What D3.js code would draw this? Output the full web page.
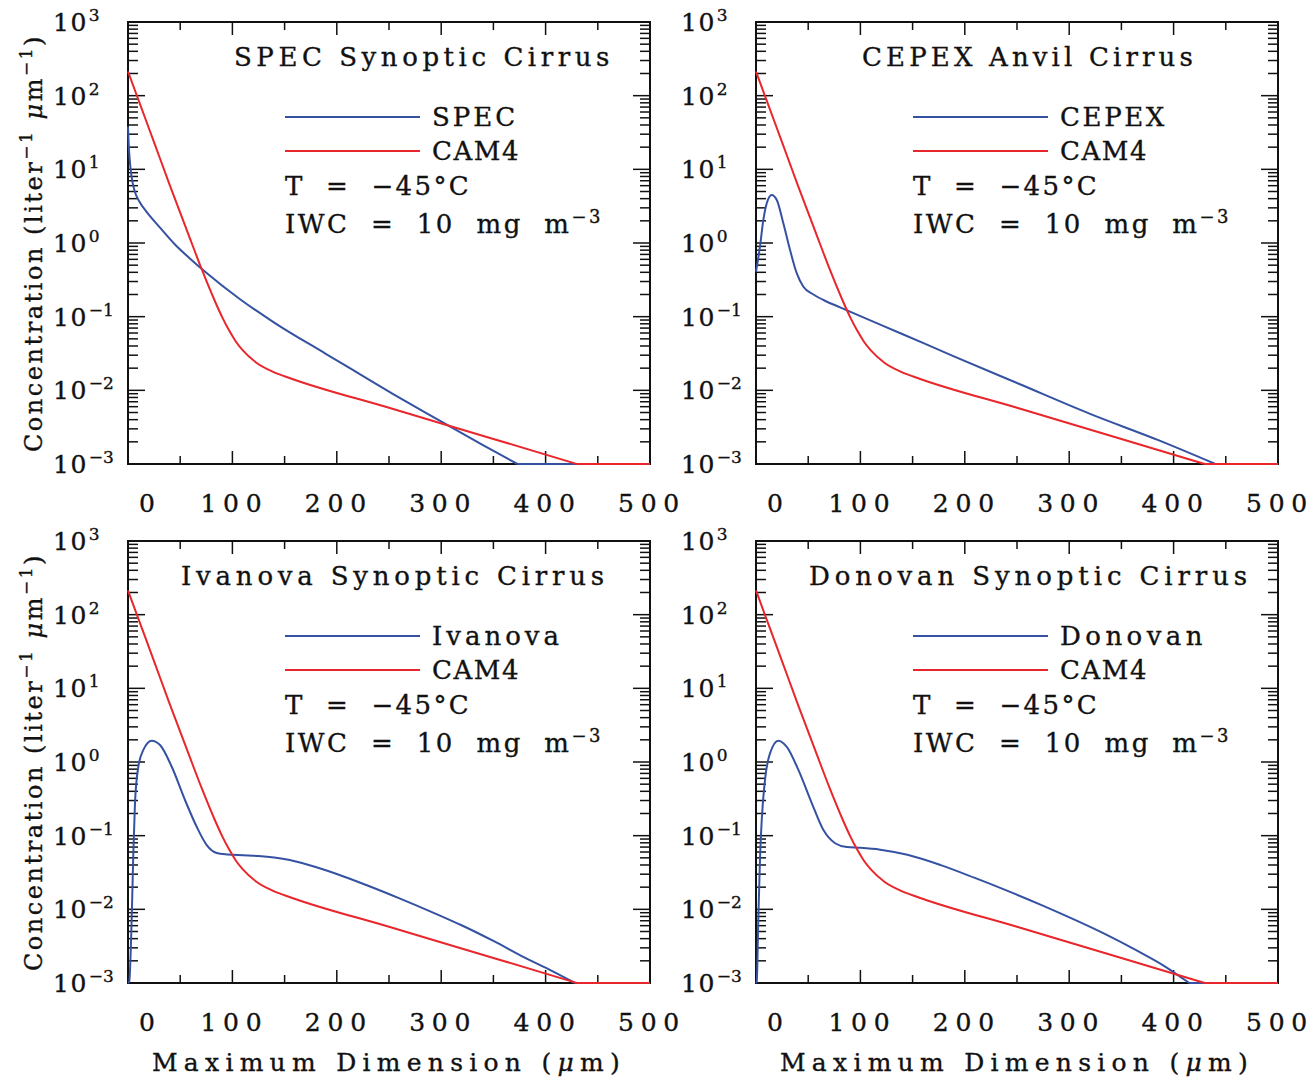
<!DOCTYPE html>
<html>
<head>
<meta charset="utf-8">
<script src="https://cdn.jsdelivr.net/npm/d3@7"></script>
<style>
body { margin: 0; background: #fff; }
text { font-family: "DejaVu Serif", serif; fill: #111; stroke: #111; stroke-width: 0.35px; white-space: pre; }
</style>
</head>
<body>
<svg id="chart" width="1316" height="1080"></svg>
<script>
// Values: diameter (um) and concentration (liter^-1 um^-1)

const diam_cam4 = [0, 10, 25, 40, 57.5, 70.6, 83.7, 90.3, 96.8, 103.4, 110, 123, 139.5, 156, 250, 350, 430, 500];
const conc_cam4 = [213, 87.7, 23.2, 6.12, 1.35, 0.441, 0.157, 0.098, 0.0652, 0.0457, 0.0348, 0.0237, 0.0177, 0.0145, 0.00579, 0.00219, 0.001, 0.000506];

const diam_spec = [0, 0.7, 1.7, 3.4, 6.5, 11, 18, 30, 45, 60, 73, 107, 140, 189, 222, 254, 287, 307, 340, 373, 400, 500];
const conc_spec = [38.0, 21.4, 13.2, 7.94, 5.01, 3.63, 2.63, 1.66, 0.955, 0.603, 0.417, 0.174, 0.0832, 0.0316, 0.0166, 0.00891, 0.00479, 0.00331, 0.0018, 0.001, 0.000617, 0.0001];

const diam_cepex = [0, 3.8, 7, 10.3, 15, 19.9, 26.2, 32.6, 39, 45.4, 55, 67, 80, 90, 140, 189, 254, 320, 386, 440, 500];
const conc_cepex = [0.407, 0.891, 2.04, 3.47, 4.49, 3.84, 1.85, 0.804, 0.389, 0.255, 0.200, 0.162, 0.135, 0.117, 0.0582, 0.0292, 0.0119, 0.00479, 0.00209, 0.001, 0.000437];

const diam_ivanova = [0, 1.2, 3.5, 5.1, 6.7, 9.9, 14.7, 22.7, 30.7, 41.9, 54.6, 65.8, 75.4, 85, 95, 110, 125, 140, 155, 170, 185, 200, 230, 260, 290, 320, 350, 380, 405, 428, 460, 500];
const conc_ivanova = [0.000316, 0.00105, 0.00716, 0.0582, 0.278, 0.863, 1.46, 1.95, 1.70, 0.863, 0.305, 0.132, 0.0746, 0.0582, 0.0556, 0.0543, 0.0531, 0.0507, 0.0468, 0.0412, 0.0355, 0.0302, 0.0209, 0.0141, 0.00933, 0.00603, 0.00372, 0.00221, 0.00148, 0.001, 0.000562, 0.000251];

const diam_donovan = [0, 0.7, 2.2, 3.8, 5.5, 8.6, 13.4, 21.4, 29.5, 40.6, 53.5, 64.6, 75.8, 87, 100, 119, 145, 177, 209, 241, 273, 305, 335, 365, 390, 415, 450, 500];
const conc_donovan = [0.000316, 0.00105, 0.00716, 0.0468, 0.163, 0.570, 1.31, 1.95, 1.61, 0.780, 0.275, 0.119, 0.0789, 0.0700, 0.0684, 0.0646, 0.0550, 0.0398, 0.0269, 0.0178, 0.0115, 0.00724, 0.00457, 0.00275, 0.00174, 0.001, 0.000398, 0.0001];

const titles = ["SPEC Synoptic Cirrus", "CEPEX Anvil Cirrus", "Ivanova Synoptic Cirrus", "Donovan Synoptic Cirrus"];
const obs_names = ["SPEC", "CEPEX", "Ivanova", "Donovan"];
const x_ticks = [0, 100, 200, 300, 400, 500];
const y_exponents = [-3, -2, -1, 0, 1, 2, 3];

// Layout

const svg = d3.select('#chart');
const W = 522, H = 442;
const blue = '#3552a2';
const red = '#e8262b';
const floor = 1e-3;

const panels = [
    { left: 128, top: 22, diam: diam_spec, conc: conc_spec, titleDx: 106, titleW: 380, nameW: 86 },
    { left: 756, top: 22, diam: diam_cepex, conc: conc_cepex, titleDx: 106, titleW: 335, nameW: 107 },
    { left: 128, top: 541, diam: diam_ivanova, conc: conc_ivanova, titleDx: 53, titleW: 428, nameW: 131 },
    { left: 756, top: 541, diam: diam_donovan, conc: conc_donovan, titleDx: 53, titleW: 443, nameW: 147 }
];

// stretch text to the wide spacing of the original plot font
function fitText(sel, target) {
    const node = sel.node();
    const n = node.textContent.length;
    const w = node.getComputedTextLength();
    sel.attr('letter-spacing', ((target - w) / n).toFixed(2));
}

function tick(g, x1, y1, x2, y2) {
    g.append('line').attr('x1', x1).attr('y1', y1).attr('x2', x2).attr('y2', y2)
        .attr('stroke', '#111').attr('stroke-width', 1.5);
}

panels.forEach((p, i) => {
    const g = svg.append('g');

    const x = d3.scaleLinear().domain([0, 500]).range([p.left, p.left + W]);
    const y = d3.scaleLog().domain([1e-3, 1e3]).range([p.top + H, p.top]).clamp(true);

    // y ticks, both sides
    y_exponents.forEach(e => {
        const yy = y(Math.pow(10, e));
        tick(g, p.left, yy, p.left + 17, yy);
        tick(g, p.left + W, yy, p.left + W - 17, yy);
        if (e < 3) {
            d3.range(2, 10).forEach(k => {
                const ym = y(k * Math.pow(10, e));
                tick(g, p.left, ym, p.left + 10, ym);
                tick(g, p.left + W, ym, p.left + W - 10, ym);
            });
        }
    });

    // x ticks, top and bottom
    d3.range(50, 500, 50).forEach(v => {
        const len = v % 100 === 0 ? 13 : 8;
        tick(g, x(v), p.top + H, x(v), p.top + H - len);
        tick(g, x(v), p.top, x(v), p.top + len);
    });

    g.append('rect').attr('x', p.left).attr('y', p.top).attr('width', W).attr('height', H)
        .attr('fill', 'none').attr('stroke', '#111').attr('stroke-width', 2);

    // y tick labels
    y_exponents.forEach(e => {
        const t = g.append('text').attr('x', p.left - 75).attr('y', y(Math.pow(10, e)) + 9)
            .attr('font-size', 25);
        t.append('tspan').attr('letter-spacing', 1.5).text('10');
        t.append('tspan').attr('font-size', 17).attr('dy', -10).attr('dx', 1)
            .text(e < 0 ? '\u2212' + (-e) : String(e));
    });

    // x tick labels
    x_ticks.forEach(v => {
        const t = g.append('text').attr('x', v === 0 ? x(v) + 19 : x(v) + 2).attr('y', p.top + H + 48)
            .attr('font-size', 25).attr('text-anchor', 'middle').text(v);
        if (v > 0) fitText(t, 68);
    });

    // title
    const title = g.append('text').attr('x', p.left + p.titleDx).attr('y', p.top + 44)
        .attr('font-size', 26).text(titles[i]);
    fitText(title, p.titleW);

    // legend
    [[obs_names[i], blue, p.nameW], ['CAM4', red, 88]].forEach(([name, col, w], j) => {
        const ly = p.top + 95 + j * 34;
        g.append('line').attr('x1', p.left + 157).attr('x2', p.left + 292).attr('y1', ly).attr('y2', ly)
            .attr('stroke', col).attr('stroke-width', 2);
        const t = g.append('text').attr('x', p.left + 304).attr('y', ly + 9).attr('font-size', 26).text(name);
        fitText(t, w);
    });

    const tT = g.append('text').attr('x', p.left + 157).attr('y', p.top + 173).attr('font-size', 26)
        .text('T  =  \u221245\u00b0C');
    fitText(tT, 186);

    const tI = g.append('text').attr('x', p.left + 157).attr('y', p.top + 211).attr('font-size', 26);
    tI.append('tspan').text('IWC  =  10  mg  m');
    tI.append('tspan').attr('font-size', 18).attr('dy', -10).text('\u22123');
    fitText(tI, 318);

    // curves: smooth part above the axis floor, then flat along the floor
    function drawCurve(diam, conc, col) {
        const pts = d3.zip(diam, conc);
        let last = 0;
        pts.forEach((d, k) => { if (d[1] >= floor - 1e-9) last = k; });
        const smooth = d3.line().x(d => x(d[0])).y(d => y(d[1])).curve(d3.curveMonotoneX);
        const flat = d3.line().x(d => x(d[0])).y(d => y(d[1]));
        g.append('path').datum(pts.slice(0, last + 1)).attr('d', smooth)
            .attr('fill', 'none').attr('stroke', col).attr('stroke-width', 2);
        if (last < pts.length - 1) {
            g.append('path').datum(pts.slice(last)).attr('d', flat)
                .attr('fill', 'none').attr('stroke', col).attr('stroke-width', 2);
        }
    }
    drawCurve(p.diam, p.conc, blue);
    drawCurve(diam_cam4, conc_cam4, red);

    // axis titles on outer panels
    if (i % 2 === 0) {
        const yt2 = g.append('text').attr('font-size', 24).attr('text-anchor', 'middle')
            .attr('transform', `translate(42,${p.top + H / 2}) rotate(-90)`);
        yt2.append('tspan').text('Concentration (liter');
        yt2.append('tspan').attr('font-size', 17).attr('dy', -10).text('\u22121');
        yt2.append('tspan').attr('dy', 10).text(' ');
        yt2.append('tspan').attr('font-style', 'italic').text('\u03bc');
        yt2.append('tspan').text('m');
        yt2.append('tspan').attr('font-size', 17).attr('dy', -10).text('\u22121');
        yt2.append('tspan').attr('dy', 10).text(')');
        fitText(yt2, 418);
    }
    if (i >= 2) {
        const xt = g.append('text').attr('font-size', 25).attr('text-anchor', 'middle')
            .attr('x', p.left + W / 2).attr('y', p.top + H + 88);
        xt.append('tspan').text('Maximum Dimension (');
        xt.append('tspan').attr('font-style', 'italic').text('\u03bc');
        xt.append('tspan').text('m)');
        fitText(xt, 474);
    }
});
</script>
</body>
</html>
